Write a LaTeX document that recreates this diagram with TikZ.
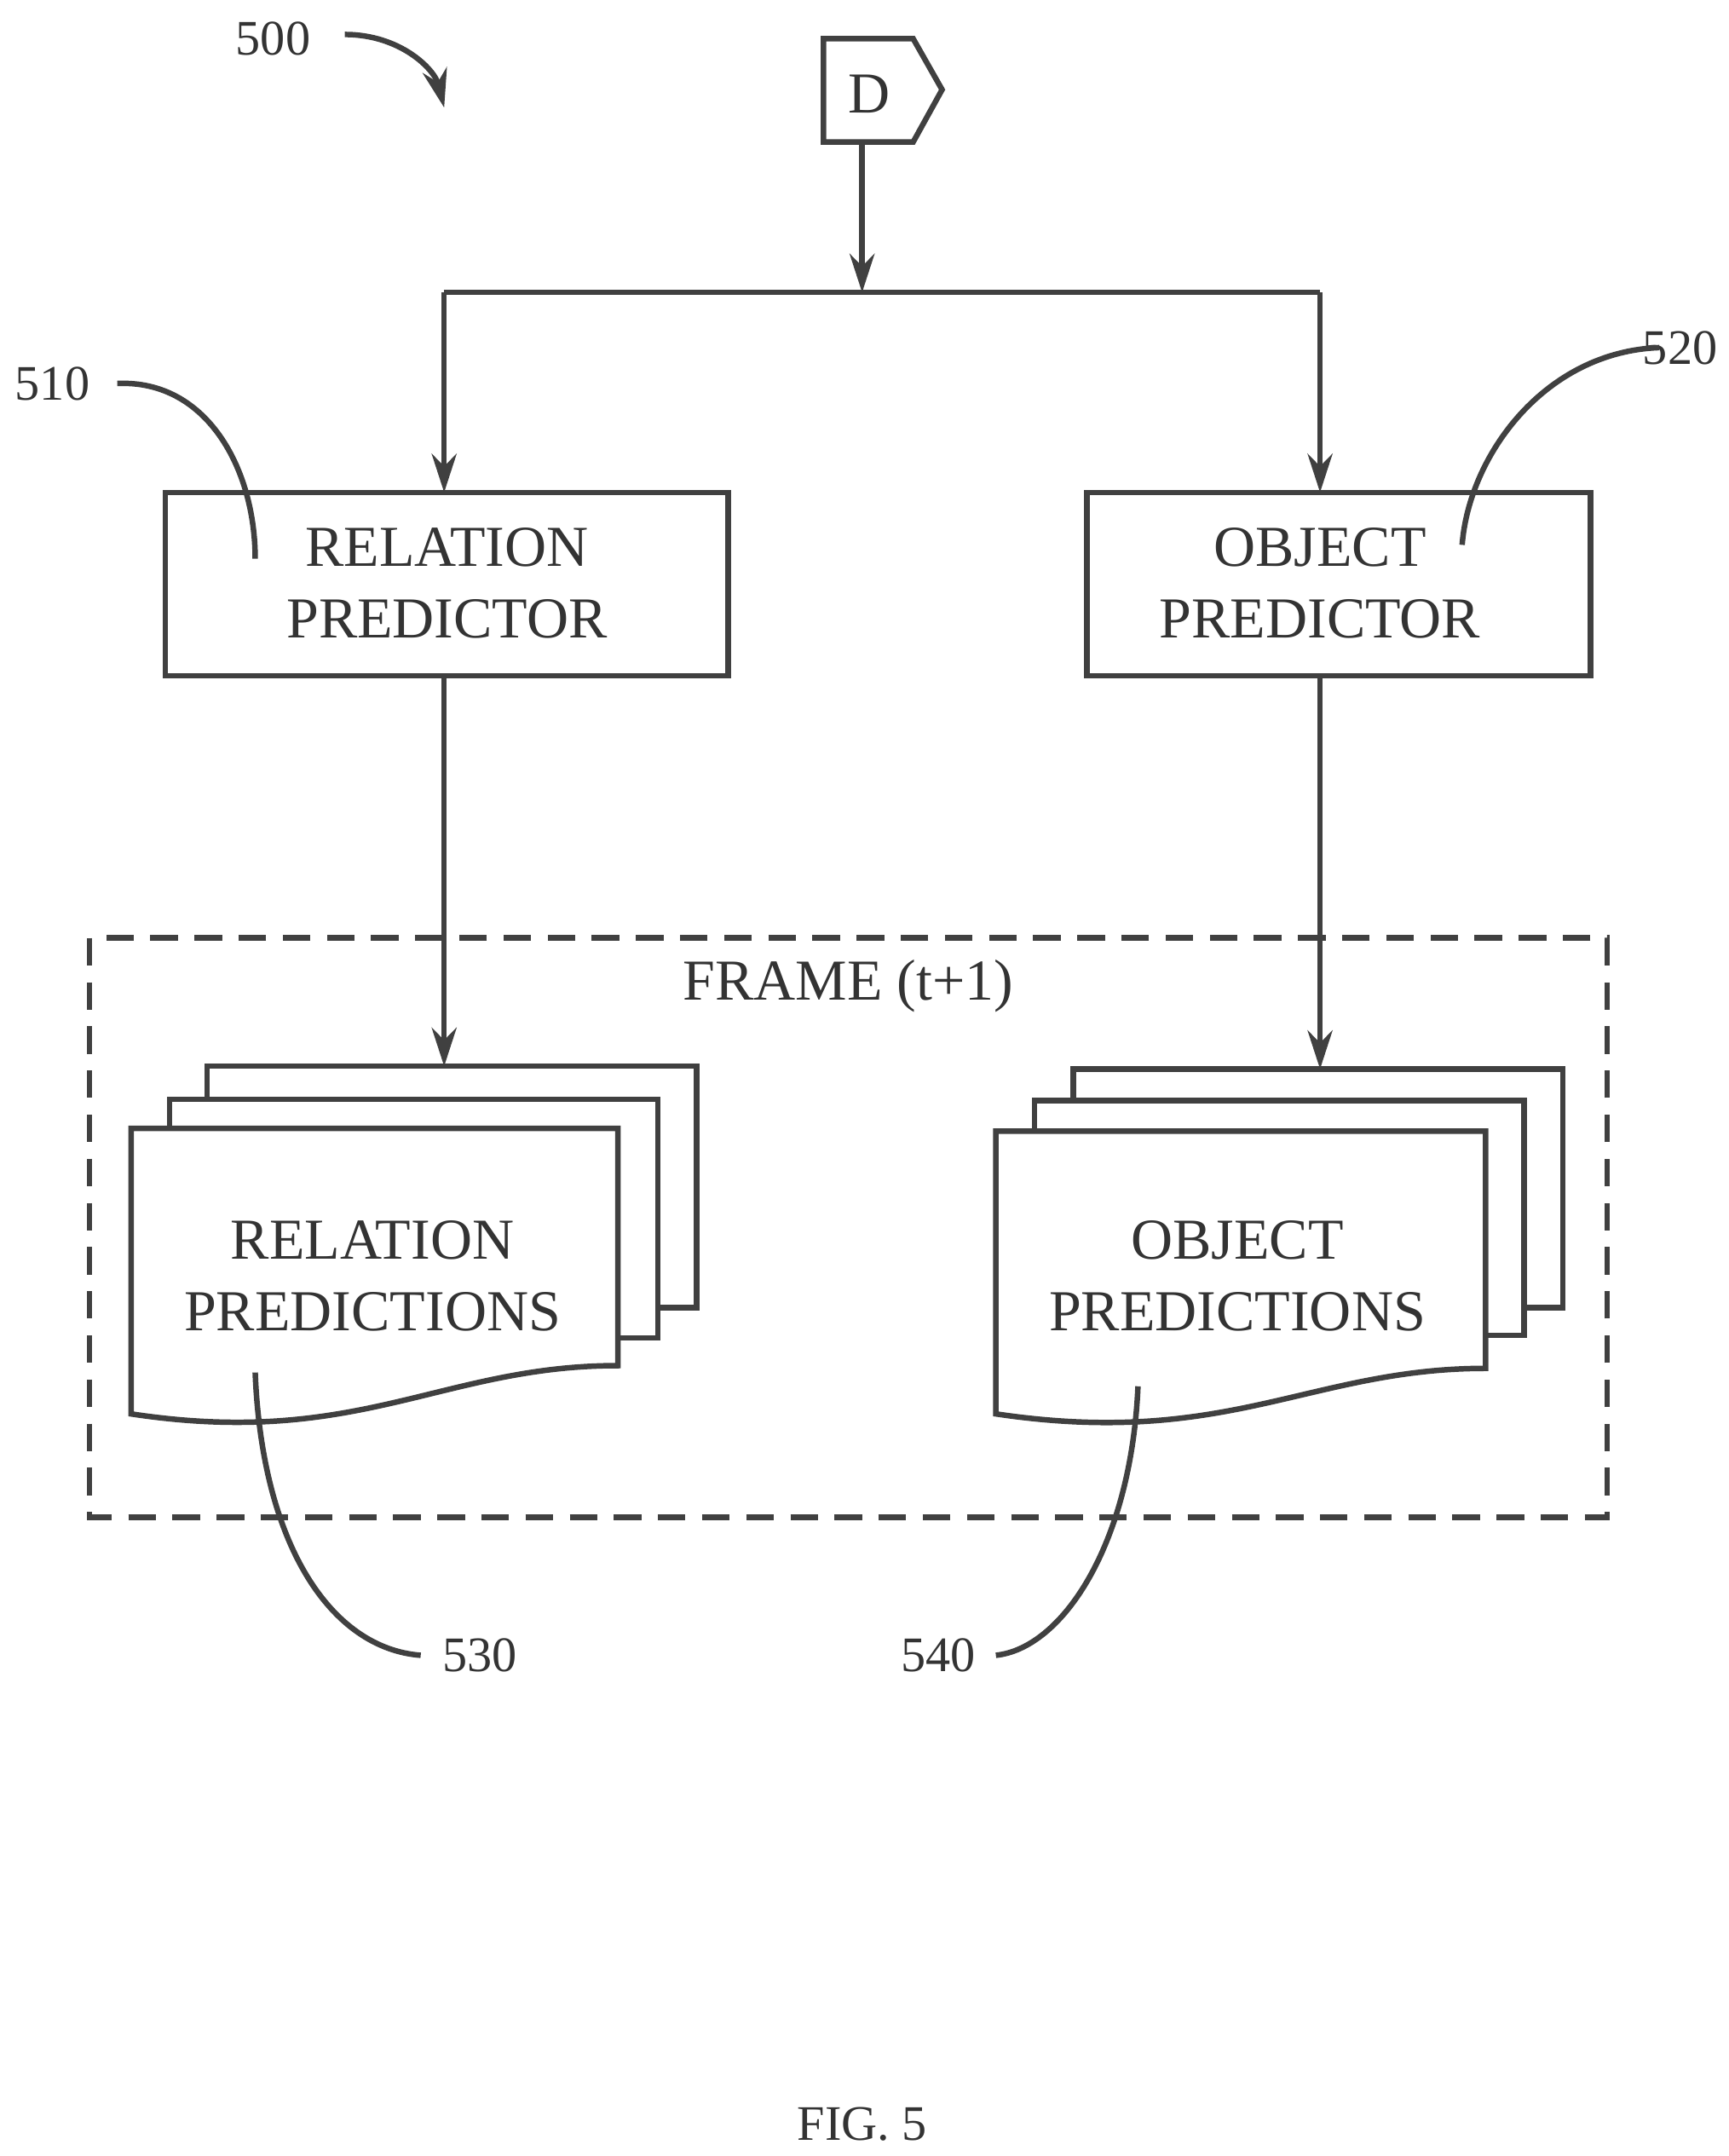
\documentclass[tikz,border=0pt]{standalone}
\usepackage{fontspec}
\setmainfont{Liberation Serif}
\usetikzlibrary{arrows.meta}
\begin{document}
\begin{tikzpicture}[x=0.5pt,y=-0.5pt,
  ln/.style={draw=black!75, line width=2pt},
  arr/.style={ln,-{Stealth[length=14pt,width=9pt]}},
  box/.style={ln,fill=white},
  txt/.style={font=\fontsize{21}{26}\selectfont, align=center, text=black!80},
  lbl/.style={font=\fontsize{18}{22}\selectfont, text=black!80}]
\useasboundingbox (0,0) rectangle (1253,1563);
% 500
\node[lbl] (n500) at (198,28) {500};
\coordinate (a500s) at (250,25);
\coordinate (a500e) at (322,78);
\draw[arr] (a500s) .. controls (290,25) and (315,50) .. (a500e);
% D connector
\draw[box] (597,28) -- (662,28) -- (683,65) -- (662,103) -- (597,103) -- cycle;
\node[txt] (D) at (630,68) {D};
\coordinate (Db) at (625,103);
\coordinate (J) at (625,212);
\draw[arr] (Db) -- (J);
\coordinate (JL) at (322,212);
\coordinate (JR) at (957,212);
\draw[ln] (JL) -- (JR);
% boxes
\draw[box] (120,357) rectangle (528,490);
\node[txt] (rp) at (324,423) {RELATION\\PREDICTOR};
\draw[box] (788,357) rectangle (1153,490);
\node[txt] (op) at (957,423) {OBJECT\\PREDICTOR};
\coordinate (rpt) at (322,357);
\coordinate (opt) at (957,357);
\draw[arr] (JL) -- (rpt);
\draw[arr] (JR) -- (opt);
% frame
\draw[ln, dash pattern=on 10pt off 6pt] (65,680) rectangle (1165,1100);
\node[txt] (fr) at (615,715) {FRAME (t+1)};
% relation stack
\draw[box] (150,773) rectangle (505,948);
\draw[box] (123,797) rectangle (477,970);
\draw[box] (95,818) -- (448,818) -- (448,990) .. controls (320,990) and (260,1050) .. (95,1025) -- cycle;
\node[txt] (rps) at (270,925) {RELATION\\PREDICTIONS};
% object stack
\draw[box] (778,775) rectangle (1133,948);
\draw[box] (750,798) rectangle (1105,968);
\draw[box] (722,820) -- (1077,820) -- (1077,992) .. controls (950,992) and (890,1050) .. (722,1025) -- cycle;
\node[txt] (ops) at (897,925) {OBJECT\\PREDICTIONS};
\coordinate (rpb) at (322,490);
\coordinate (rst) at (322,773);
\coordinate (opb) at (957,490);
\coordinate (ost) at (957,775);
\draw[arr] (rpb) -- (rst);
\draw[arr] (opb) -- (ost);
% reference labels
\node[lbl] (n510) at (38,278) {510};
\draw[ln] (85,278) .. controls (150,275) and (185,340) .. (185,405);
\node[lbl] (n520) at (1218,252) {520};
\draw[ln] (1203,252) .. controls (1120,255) and (1065,330) .. (1060,395);
\node[lbl] (n530) at (348,1200) {530};
\draw[ln] (185,995) .. controls (190,1120) and (240,1195) .. (305,1200);
\node[lbl] (n540) at (680,1200) {540};
\draw[ln] (825,1005) .. controls (820,1120) and (770,1195) .. (722,1200);
\node[lbl] (fig) at (625,1540) {FIG. 5};
\end{tikzpicture}
\end{document}
